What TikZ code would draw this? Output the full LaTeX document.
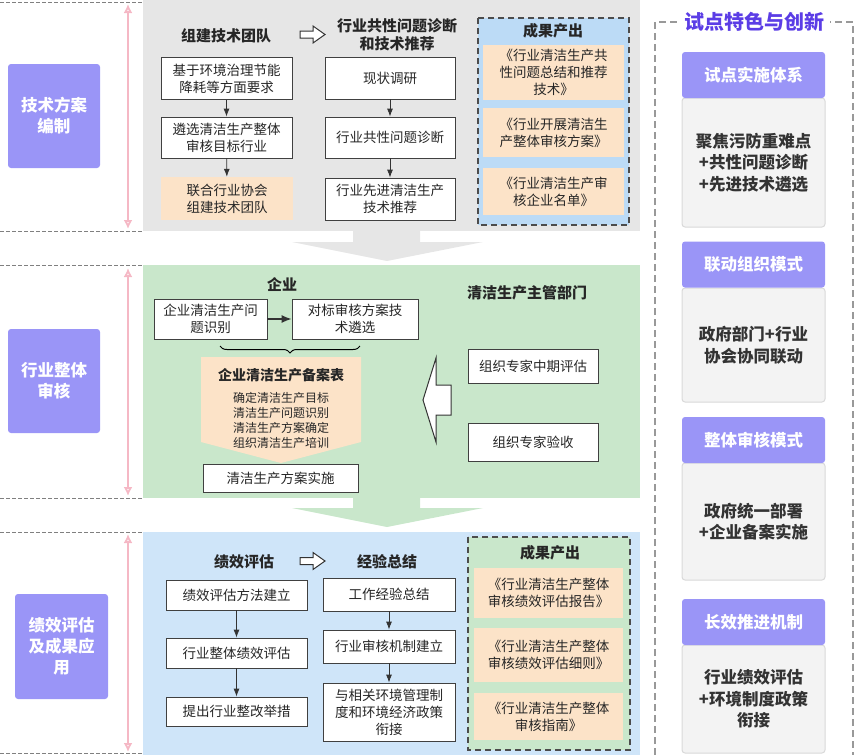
\documentclass[tikz,border=0pt]{standalone}
\usepackage{fontspec}
\setmainfont{Noto Sans CJK SC}
\usetikzlibrary{arrows,arrows.meta,decorations.pathreplacing}
\definecolor{purp}{HTML}{9A95F7}
\definecolor{titlepurp}{HTML}{5B3DE6}
\definecolor{graybg}{HTML}{E6E6E6}
\definecolor{greenbg}{HTML}{C9E7CB}
\definecolor{bluebg}{HTML}{CFE5F9}
\definecolor{outblue}{HTML}{BCDBF6}
\definecolor{peach}{HTML}{FCE3C8}
\definecolor{pinkline}{HTML}{F5B8C5}
\definecolor{cardbg}{HTML}{F3F3F3}

\begin{document}
\begin{tikzpicture}[x=1pt,y=-1pt]
	\tikzset{box/.style = {draw=black!75, fill=white, line width=0.8pt, align=center,
			inner sep=0pt, text=black!85, font=\fontsize{13.5}{17}\selectfont}}
	\tikzset{ybox/.style = {fill=peach, align=center, inner sep=0pt, text=black!85,
			font=\fontsize{13.5}{17}\selectfont}}
	\tikzset{lbl/.style = {fill=purp, rounded corners=3pt, text=white, align=center,
			font=\bfseries\fontsize{16.5}{21}\selectfont}}
	\tikzset{head/.style = {align=center, inner sep=0pt, text=black!85,
			font=\bfseries\fontsize{15}{18}\selectfont}}
	\tikzset{outbox/.style = {draw=black!70, dash pattern=on 6pt off 4pt, line width=1.8pt}}
	\tikzset{edge/.style = {-{Latex[length=8pt,width=6pt]}, line width=0.8pt, black!80}}
	\tikzset{span/.style = {{Latex[open,length=9pt,width=9pt]}-{Latex[open,length=9pt,width=9pt]},
			pinkline, line width=2.5pt}}
	\tikzset{sep/.style = {draw=gray, dash pattern=on 4pt off 2pt, line width=0.8pt}}
	\tikzset{frame/.style = {draw=gray!80, dash pattern=on 7pt off 4pt, line width=2.5pt}}
	\tikzset{cardhead/.style = {fill=purp, rounded corners=3pt, text=white, inner sep=0pt,
			minimum width=143, minimum height=46, font=\bfseries\fontsize{16.5}{20}\selectfont}}
	\tikzset{cardbody/.style = {fill=cardbg, draw=black!15, line width=1pt, rounded corners=3pt,
			align=center, inner sep=0pt, minimum width=143, text=black!80,
			font=\bfseries\fontsize{16.5}{21.5}\selectfont}}
	\tikzset{hollow/.style = {draw=black!80, fill=white, line width=1pt}}
	\useasboundingbox (0,0) rectangle (860,755);
	% panels
	\fill[graybg] (143,0) rectangle (640,231);
	\fill[greenbg] (143,265) rectangle (640,498);
	\fill[bluebg] (143,532) rectangle (640,755);
	\fill[graybg] (353,231) -- (420,231) -- (420,242) -- (483,242) -- (387,261)
		-- (292,242) -- (353,242) -- cycle;
	\fill[greenbg] (353,498) -- (420,498) -- (420,508) -- (483,508) -- (387,527)
		-- (292,508) -- (353,508) -- cycle;
	% left side
	\foreach \y in {2,231,265,498,532,753}
		\draw[sep] (0,\y) -- (143,\y);
	\coordinate (p1a) at (128,4);   \coordinate (p1b) at (128,229);
	\coordinate (p2a) at (128,268); \coordinate (p2b) at (128,496);
	\coordinate (p3a) at (128,534); \coordinate (p3b) at (128,752);
	\draw[span] (p1a) -- (p1b);
	\draw[span] (p2a) -- (p2b);
	\draw[span] (p3a) -- (p3b);
	\node[lbl, minimum width=92, minimum height=104] (s1) at (54,116) {技术方案\\编制};
	\node[lbl, minimum width=92, minimum height=104] (s2) at (54,381) {行业整体\\审核};
	\node[lbl, minimum width=93, minimum height=105] (s3) at (61.5,646.5) {绩效评估\\及成果应\\用};

	% technical plan
	\node[head] (t1) at (226,36) {组建技术团队};
	\node[head] (t2) at (397,35) {行业共性问题诊断\\和技术推荐};
	\draw[hollow] (300,31) -- (313,31) -- (313,26) -- (325,34.5) -- (313,43) -- (313,38)
		-- (300,38) -- cycle;
	\node[box, minimum width=131, minimum height=42] (a1) at (226.5,78.5) {基于环境治理节能\\降耗等方面要求};
	\node[box, minimum width=131, minimum height=41] (a2) at (226.5,137.5) {遴选清洁生产整体\\审核目标行业};
	\node[ybox, minimum width=132, minimum height=43] (a3) at (227,198.5) {联合行业协会\\组建技术团队};
	\node[box, minimum width=130, minimum height=42] (b1) at (390,78) {现状调研};
	\node[box, minimum width=130, minimum height=41] (b2) at (390,137.5) {行业共性问题诊断};
	\node[box, minimum width=130, minimum height=42] (b3) at (390,199) {行业先进清洁生产\\技术推荐};
	\draw[edge] (a1) -- (a2);
	\draw[edge] (a2) -- (a3);
	\draw[edge] (b1) -- (b2);
	\draw[edge] (b2) -- (b3);
	\draw[outbox, fill=outblue] (478,18) rectangle (629,225);
	\node[head] (o1t) at (553,31) {成果产出};
	\node[ybox, minimum width=141, minimum height=55] (o11) at (553.5,72.5) {《行业清洁生产共\\性问题总结和推荐\\技术》};
	\node[ybox, minimum width=141, minimum height=49] (o12) at (553.5,132.5) {《行业开展清洁生\\产整体审核方案》};
	\node[ybox, minimum width=141, minimum height=47] (o13) at (553.5,191.5) {《行业清洁生产审\\核企业名单》};

	% industry audit
	\node[head] (t3) at (282,285) {企业};
	\node[head] (t4) at (527,293) {清洁生产主管部门};
	\node[box, minimum width=113, minimum height=40] (e1) at (210.5,319) {企业清洁生产问\\题识别};
	\node[box, minimum width=126, minimum height=40] (e2) at (355,319) {对标审核方案技\\术遴选};
	\draw[edge, line width=1.4pt, -{Latex[length=10pt,width=8pt]}] (e1) -- (e2);
	\draw[line width=1pt, decorate, decoration={brace, mirror, amplitude=7pt}]
		(220,346) -- (360,346);
	\fill[peach] (201,357) -- (361,357) -- (361,442) -- (281,463) -- (201,442) -- cycle;
	\node[head, font=\bfseries\fontsize{14}{17}\selectfont] (f1) at (281,375) {企业清洁生产备案表};
	\node[align=center, inner sep=0pt, text=black!85, font=\fontsize{12}{15}\selectfont] (f2) at (281,420)
		{确定清洁生产目标\\清洁生产问题识别\\清洁生产方案确定\\组织清洁生产培训};
	\node[box, minimum width=155, minimum height=28] (impl) at (280.5,478) {清洁生产方案实施};
	\node[box, minimum width=130, minimum height=34] (m1) at (533,366) {组织专家中期评估};
	\node[box, minimum width=130, minimum height=38] (m2) at (533,442) {组织专家验收};
	\draw[hollow] (423,400) -- (436,358) -- (436,385) -- (451,385) -- (451,415)
		-- (436,415) -- (436,442) -- cycle;

	% evaluation
	\node[head] (t5) at (244,562) {绩效评估};
	\node[head] (t6) at (387,562) {经验总结};
	\draw[hollow] (300,557.5) -- (313,557.5) -- (313,552.5) -- (325,561) -- (313,569.5)
		-- (313,564.5) -- (300,564.5) -- cycle;
	\node[box, minimum width=141, minimum height=30] (k1) at (236.5,595) {绩效评估方法建立};
	\node[box, minimum width=141, minimum height=30] (k2) at (236.5,653) {行业整体绩效评估};
	\node[box, minimum width=141, minimum height=29] (k3) at (236.5,711.5) {提出行业整改举措};
	\node[box, minimum width=132, minimum height=33] (j1) at (389,594.5) {工作经验总结};
	\node[box, minimum width=132, minimum height=33] (j2) at (389,646.5) {行业审核机制建立};
	\node[box, minimum width=132, minimum height=58] (j3) at (389,712) {与相关环境管理制\\度和环境经济政策\\衔接};
	\draw[edge] (k1) -- (k2);
	\draw[edge] (k2) -- (k3);
	\draw[edge] (j1) -- (j2);
	\draw[edge] (j2) -- (j3);
	\draw[outbox, fill=greenbg] (468,537) rectangle (630,750);
	\node[head] (o3t) at (550,553) {成果产出};
	\node[ybox, minimum width=149, minimum height=50] (o31) at (548.5,593) {《行业清洁生产整体\\审核绩效评估报告》};
	\node[ybox, minimum width=149, minimum height=54] (o32) at (548.5,655) {《行业清洁生产整体\\审核绩效评估细则》};
	\node[ybox, minimum width=149, minimum height=47] (o33) at (548.5,716.5) {《行业清洁生产整体\\审核指南》};

	% features
	\draw[frame] (655,755) -- (655,22) -- (853,22) -- (853,755);
	\node[fill=white, inner xsep=6pt, inner ysep=4pt, text=titlepurp,
		font=\bfseries\fontsize{20}{24}\selectfont] (ft) at (754,22) {试点特色与创新};
	\node[cardbody, minimum height=129] (c1) at (753.5,162.5) {聚焦污防重难点\\+共性问题诊断\\+先进技术遴选};
	\node[cardhead] (h1) at (753.5,75) {试点实施体系};
	\node[cardbody, minimum height=114] (c2) at (753.5,345) {政府部门+行业\\协会协同联动};
	\node[cardhead] (h2) at (753.5,264.5) {联动组织模式};
	\node[cardbody, minimum height=117] (c3) at (753.5,521.5) {政府统一部署\\+企业备案实施};
	\node[cardhead] (h3) at (753.5,440) {整体审核模式};
	\node[cardbody, minimum height=108] (c4) at (753.5,699) {行业绩效评估\\+环境制度政策\\衔接};
	\node[cardhead] (h4) at (753.5,622) {长效推进机制};
\end{tikzpicture}
\end{document}
